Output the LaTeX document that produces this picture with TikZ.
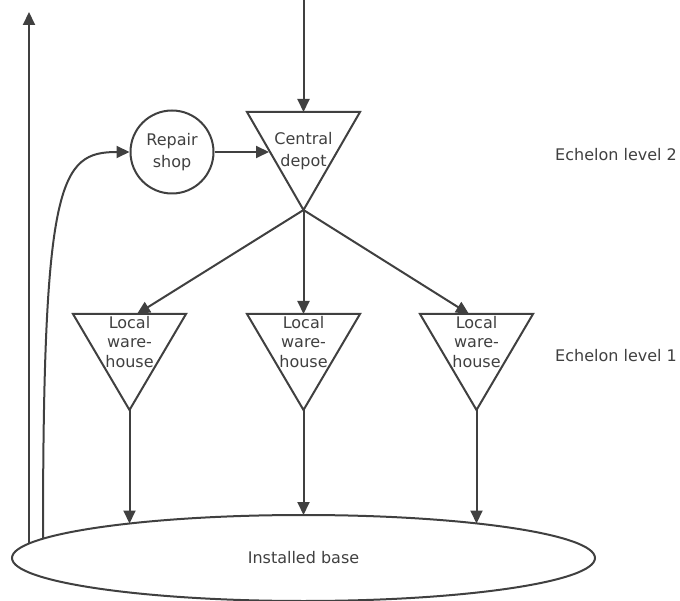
\documentclass[tikz,border=0pt]{standalone}
\usepackage{fontspec}
\setmainfont{DejaVu Sans}
\usetikzlibrary{arrows.meta,shapes.geometric}
\definecolor{ink}{HTML}{404040}
\begin{document}
\begin{tikzpicture}[x=1pt,y=-1pt,
  line/.style={draw=ink,line width=2pt},
  arr/.style={line,-{Triangle[length=13pt,width=12pt]}},
  lbl/.style={text=ink,align=center,inner sep=0pt},
  tri/.style={line,line join=miter}]
\useasboundingbox (0,0) rectangle (680,601);
% installed base
\node[ellipse,draw=ink,line width=2pt,minimum width=583pt,minimum height=86pt,inner sep=0pt,
  text=ink,font=\fontsize{16}{20}\selectfont] (base) at (303.5,558) {Installed base};
% repair shop
\node[circle,draw=ink,line width=2pt,minimum size=83pt,inner sep=0pt,lbl,
  font=\fontsize{16}{22}\selectfont] (rs) at (172,152) {Repair\\shop};
% central depot
\coordinate (cdl) at (247,112);
\coordinate (cdr) at (360,112);
\coordinate (cdt) at (303.5,112);
\coordinate (cda) at (303.5,210);
\coordinate (cdin) at (269,152);
\draw[tri] (cdl) -- (cdr) -- (cda) -- cycle;
\node[lbl,font=\fontsize{16}{22}\selectfont] (cdtext) at (303.5,151) {Central\\depot};
% local warehouses
\foreach \n/\x in {a/129.5,b/303.5,c/476.5}{
  \coordinate (w\n l) at (\x-56.5,314);
  \coordinate (w\n r) at (\x+56.5,314);
  \coordinate (w\n a) at (\x,410);
  \draw[tri] (w\n l) -- (w\n r) -- (w\n a) -- cycle;
  \node[lbl,font=\fontsize{16}{19.5}\selectfont] (w\n text) at (\x,342) {Local\\ware-\\house};
}
\coordinate (wain) at (137,314);
\coordinate (wbin) at (303.5,314);
\coordinate (wcin) at (469,314);
% base entry points
\coordinate (ba) at (129.5,523.5);
\coordinate (bb) at (303.5,515);
\coordinate (bc) at (476.5,523.5);
\coordinate (bout1) at (29,543);
\coordinate (bout2) at (43,538);
\coordinate (topout) at (29,12);
\coordinate (topin) at (303.5,0);
% connectors
\draw[arr] (topin) -- (cdt);
\draw[arr] (rs.east) -- (cdin);
\draw[arr] (cda) -- (wain);
\draw[arr] (cda) -- (wbin);
\draw[arr] (cda) -- (wcin);
\draw[arr] (waa) -- (ba);
\draw[arr] (wba) -- (bb);
\draw[arr] (wca) -- (bc);
\draw[arr] (bout1) -- (topout);
\draw[arr] (bout2) .. controls (43,180) and (60,152) .. (rs.west);
% echelon labels
\node[text=ink,anchor=west,inner sep=0pt,font=\fontsize{16}{20}\selectfont] (e2) at (555,155) {Echelon level 2};
\node[text=ink,anchor=west,inner sep=0pt,font=\fontsize{16}{20}\selectfont] (e1) at (555,356) {Echelon level 1};
\end{tikzpicture}
\end{document}
